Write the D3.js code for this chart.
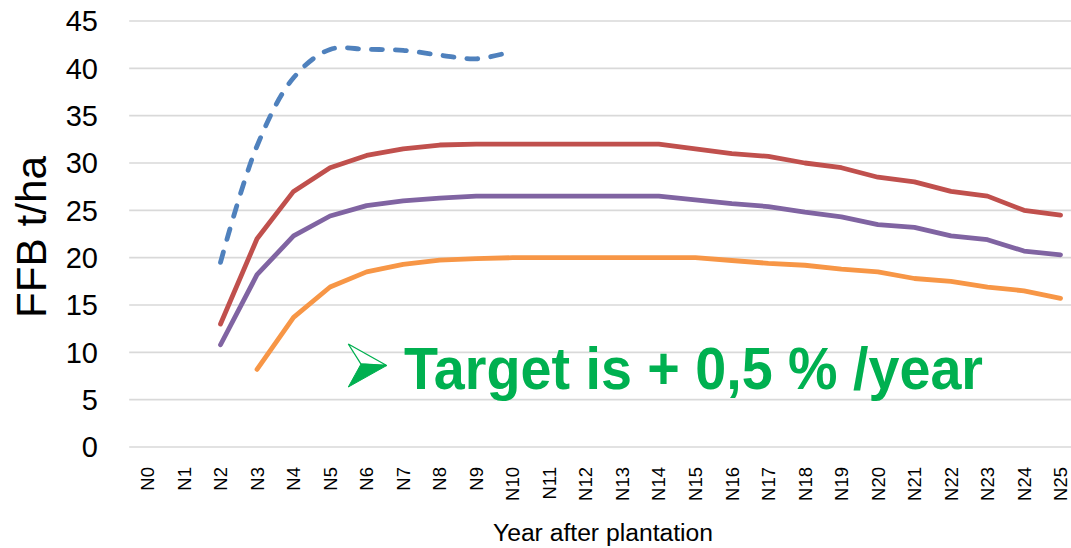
<!DOCTYPE html>
<html>
<head>
<meta charset="utf-8">
<script src="https://cdn.jsdelivr.net/npm/d3@7"></script>
<style>
  html, body { margin: 0; padding: 0; background: #fff; }
  svg { display: block; }
  text { font-family: "Liberation Sans", Arial, sans-serif; }
</style>
</head>
<body>
<svg id="chart" width="1071" height="548"></svg>
<script>
// Year after plantation
const categories = ["N0","N1","N2","N3","N4","N5","N6","N7","N8","N9","N10","N11","N12",
  "N13","N14","N15","N16","N17","N18","N19","N20","N21","N22","N23","N24","N25"];

// FFB yield curves (t/ha); null where a curve has no value
const bestYield = [null,null,19.5,31.8,39.0,42.0,42.0,41.9,41.4,41.0,41.8,
  null,null,null,null,null,null,null,null,null,null,null,null,null,null,null];
const highYield = [null,null,13.0,22.0,27.0,29.5,30.8,31.5,31.9,32.0,32.0,32.0,32.0,
  32.0,32.0,31.5,31.0,30.7,30.0,29.5,28.5,28.0,27.0,26.5,25.0,24.5];
const midYield = [null,null,10.8,18.2,22.3,24.4,25.5,26.0,26.3,26.5,26.5,26.5,26.5,
  26.5,26.5,26.1,25.7,25.4,24.8,24.3,23.5,23.2,22.3,21.9,20.7,20.3];
const lowYield = [null,null,null,8.2,13.7,16.9,18.5,19.3,19.75,19.9,20.0,20.0,20.0,
  20.0,20.0,20.0,19.7,19.4,19.2,18.8,18.5,17.8,17.5,16.9,16.5,15.7];

const yTicks = [0,5,10,15,20,25,30,35,40,45];

const yTitle = "FFB t/ha";
const xTitle = "Year after plantation";
const note = "Target is + 0,5 % /year";

const svg = d3.select("#chart");

const plot = { left: 129.2, right: 1078.8, top: 21, bottom: 447 };

const x = d3.scalePoint()
  .domain(categories)
  .range([plot.left, plot.right])
  .padding(0.5);

const y = d3.scaleLinear()
  .domain([0, 45])
  .range([plot.bottom, plot.top]);

// horizontal gridlines
svg.append("g")
  .selectAll("line")
  .data(yTicks)
  .join("line")
  .attr("x1", plot.left)
  .attr("x2", 1071)
  .attr("y1", d => y(d))
  .attr("y2", d => y(d))
  .attr("stroke", "#d9d9d9")
  .attr("stroke-width", 1.6);

// y tick labels
svg.append("g")
  .selectAll("text")
  .data(yTicks)
  .join("text")
  .attr("x", 98)
  .attr("y", d => y(d))
  .attr("dy", "0.36em")
  .attr("text-anchor", "end")
  .attr("font-size", 29)
  .attr("fill", "#000")
  .text(d => d);

// x tick labels, rotated
svg.append("g")
  .selectAll("text")
  .data(categories)
  .join("text")
  .attr("transform", d => `translate(${x(d)},467) rotate(-90)`)
  .attr("dy", "0.36em")
  .attr("text-anchor", "end")
  .attr("font-size", 18.5)
  .attr("fill", "#000")
  .text(d => d);

// axis titles
svg.append("text")
  .attr("transform", "translate(46,237) rotate(-90)")
  .attr("text-anchor", "middle")
  .attr("font-size", 42)
  .attr("fill", "#000")
  .attr("textLength", 162)
  .attr("lengthAdjust", "spacingAndGlyphs")
  .text(yTitle);

svg.append("text")
  .attr("x", 603)
  .attr("y", 541)
  .attr("text-anchor", "middle")
  .attr("font-size", 24.7)
  .attr("fill", "#000")
  .text(xTitle);

// series lines
const series = [
  { values: lowYield, color: "#F79646", smooth: false, dash: null },
  { values: midYield, color: "#8064A2", smooth: false, dash: null },
  { values: highYield, color: "#C0504D", smooth: false, dash: null },
  { values: bestYield, color: "#4F81BD", smooth: true, dash: "11,13" }
];

series.forEach(s => {
  const line = d3.line()
    .defined(d => d != null)
    .x((d, i) => x(categories[i]))
    .y(d => y(d))
    .curve(s.smooth ? d3.curveCatmullRom.alpha(0.5) : d3.curveLinear);
  svg.append("path")
    .datum(s.values)
    .attr("d", line)
    .attr("fill", "none")
    .attr("stroke", s.color)
    .attr("stroke-width", 4.8)
    .attr("stroke-linecap", "round")
    .attr("stroke-linejoin", "round")
    .attr("stroke-dasharray", s.dash);
});

// bullet arrow + target note
const green = "#00B050";
const ax = 348.3, ay = 344, tipX = 386.7, tipY = 365.5, nx = 361, ny = 364, by = 387;
svg.append("path")
  .attr("d", `M${ax},${ay} L${tipX},${tipY} L${nx},${ny} Z`)
  .attr("fill", "#fff")
  .attr("stroke", green)
  .attr("stroke-width", 1.3)
  .attr("stroke-linejoin", "miter");
svg.append("path")
  .attr("d", `M${nx},${ny} L${tipX},${tipY} L${ax},${by} Z`)
  .attr("fill", green)
  .attr("stroke", green)
  .attr("stroke-width", 1);

svg.append("text")
  .attr("x", 404)
  .attr("y", 389)
  .attr("font-size", 60)
  .attr("font-weight", "bold")
  .attr("fill", green)
  .attr("textLength", 579)
  .attr("lengthAdjust", "spacingAndGlyphs")
  .text(note);
</script>
</body>
</html>
